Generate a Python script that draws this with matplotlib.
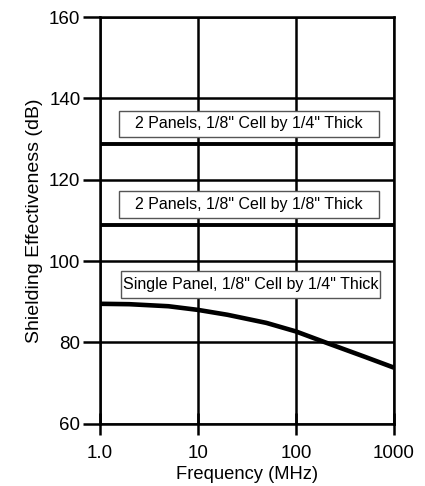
import matplotlib
matplotlib.use("Agg")
import matplotlib.pyplot as plt
from matplotlib.patches import Rectangle
import numpy as np

plt.rcParams['font.family'] = ['Liberation Sans', 'DejaVu Sans']

freq = [1, 2, 5, 10, 20, 50, 100, 200, 500, 1000]
single_panel = [89.5, 89.4, 88.9, 88.0, 86.8, 84.8, 82.7, 80.0, 76.5, 73.8]
two_panel_eighth = 108.8
two_panel_quarter = 128.7
labels = ['2 Panels, 1/8" Cell by 1/4" Thick',
          '2 Panels, 1/8" Cell by 1/8" Thick',
          'Single Panel, 1/8" Cell by 1/4" Thick']
label_y = [133.7, 113.9, 94.3]
xticks = [1, 10, 100, 1000]
xticklabels = ['1.0', '10', '100', '1000']
yticks = [60, 80, 100, 120, 140, 160]

fig = plt.figure(figsize=(4.25, 4.86), dpi=100)
ax = fig.add_axes([0.235, 0.128, 0.692, 0.837])
ax.set_xscale('log')
ax.set_xlim(1, 1000)
ax.set_ylim(60, 160)

for y in yticks:
    ax.axhline(y, color='black', lw=1.8, zorder=1)
for x in xticks:
    ax.axvline(x, color='black', lw=1.8, zorder=1)

ax.axhline(two_panel_quarter, color='black', lw=2.8, zorder=2)
ax.axhline(two_panel_eighth, color='black', lw=2.8, zorder=2)
ax.plot(freq, single_panel, color='black', lw=3.3, zorder=3, solid_capstyle='butt')

trans = ax.get_yaxis_transform()
box_x = [(0.065, 0.949), (0.065, 0.949), (0.071, 0.952)]
box_h = 6.6
for txt, y, (x0, x1) in zip(labels, label_y, box_x):
    ax.add_patch(Rectangle((x0, y - box_h / 2), x1 - x0, box_h, transform=trans,
                           fc='white', ec='#555555', lw=1.0, zorder=4))
    ax.text((x0 + x1) / 2, y, txt, transform=trans, ha='center', va='center',
            fontsize=11.5, zorder=5)

ax.set_xticks(xticks)
ax.set_xticklabels(xticklabels)
ax.xaxis.set_minor_locator(matplotlib.ticker.NullLocator())
ax.set_yticks(yticks)
ax.tick_params(axis='both', labelsize=13.5, width=1.8, color='black')
ax.tick_params(axis='y', length=12, direction='out', pad=2)
ax.tick_params(axis='x', length=16, direction='inout', pad=7)
for s in ax.spines.values():
    s.set_linewidth(1.8)

ax.set_xlabel('Frequency (MHz)', fontsize=13.2, labelpad=3)
ax.set_ylabel('Shielding Effectiveness (dB)', fontsize=14, labelpad=4)

fig.savefig('out.png', dpi=100)
